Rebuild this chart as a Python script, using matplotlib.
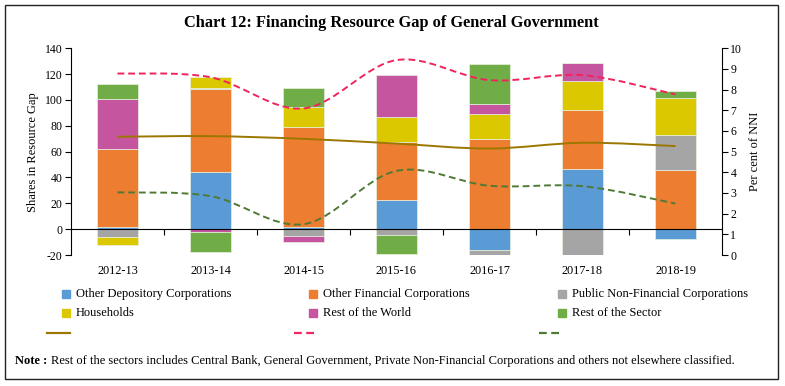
import matplotlib
matplotlib.use("Agg")
import matplotlib.pyplot as plt
import numpy as np
from matplotlib.path import Path
from matplotlib.patches import PathPatch, Rectangle
from matplotlib.lines import Line2D

plt.rcParams["font.family"] = ["Liberation Serif", "DejaVu Serif"]
plt.rcParams["axes.unicode_minus"] = False

years = ["2012-13", "2013-14", "2014-15", "2015-16", "2016-17", "2017-18", "2018-19"]

# shares in resource gap (left axis)
odc = [1.3, 44.4, 1.8, 22.5, -16.3, 46.5, -7.7]
ofc = [60.4, 64.0, 77.4, 44.6, 69.9, 45.6, 45.9]
pnfc = [-6.2, 1.0, -5.4, -4.6, -4.6, -20.9, 27.1]
households = [-5.9, 8.6, 15.5, 19.9, 19.6, 22.7, 28.9]
rest_world = [38.9, -2.0, -4.4, 32.2, 7.5, 14.0, 0.0]
rest_sector = [11.4, -16.0, 14.7, -14.8, 30.7, 0.0, 5.2]

# per cent of NNI (right axis)
line_solid = [5.72, 5.75, 5.62, 5.39, 5.15, 5.43, 5.27]
line_red = [8.78, 8.60, 7.09, 9.43, 8.46, 8.70, 7.77]
line_green = [3.03, 2.85, 1.49, 4.07, 3.35, 3.33, 2.49]

bar_series = [
    ("Other Depository Corporations", odc, "#5B9BD5"),
    ("Other Financial Corporations", ofc, "#ED7D31"),
    ("Public Non-Financial Corporations", pnfc, "#A5A5A5"),
    ("Households", households, "#DCC800"),
    ("Rest of the World", rest_world, "#C5559E"),
    ("Rest of the Sector", rest_sector, "#70AD47"),
]


def smooth_path(xs, ys):
    # Excel-style smoothed line as cubic Bezier segments
    pts = np.column_stack([xs, ys]).astype(float)
    n = len(pts)
    verts = [pts[0]]
    codes = [Path.MOVETO]
    for i in range(n - 1):
        p0 = pts[max(i - 1, 0)]
        p1 = pts[i]
        p2 = pts[i + 1]
        p3 = pts[min(i + 2, n - 1)]
        c1 = p1 + (p2 - p0) / 6.0
        c2 = p2 - (p3 - p1) / 6.0
        verts += [c1, c2, p2]
        codes += [Path.CURVE4] * 3
    return Path(verts, codes)


W, H = 785, 386
fig = plt.figure(figsize=(W / 100, H / 100), dpi=100)
ax = fig.add_axes([71 / W, 1 - 255 / H, (722 - 71) / W, (255 - 48.3) / H])
ax2 = ax.twinx()

x = np.arange(len(years))
pos_base = np.zeros(len(years))
neg_base = np.zeros(len(years))
for name, vals, color in bar_series:
    v = np.array(vals)
    base = np.where(v >= 0, pos_base, neg_base)
    ax.bar(x, v, bottom=base, width=0.44, color=color,
           edgecolor="#e8f0e0", linewidth=0.5, zorder=2)
    pos_base += np.where(v >= 0, v, 0)
    neg_base += np.where(v < 0, v, 0)

ax.set_ylim(-20, 140)
ax.set_yticks(range(-20, 141, 20))
ax.set_xlim(-0.5, 6.5)
ax.set_xticks(x, years)
ax.set_xticks(np.arange(0.5, 6, 1), minor=True)
ax.tick_params(axis="x", which="major", length=0, pad=26, labelsize=8.8)
ax.tick_params(axis="x", which="minor", length=4, direction="out", width=0.8)
ax.tick_params(axis="y", length=4, width=0.8, labelsize=8.5, pad=2)
ax.spines["bottom"].set_position(("data", 0))
ax.spines["top"].set_visible(False)
ax.spines["right"].set_visible(False)
ax.set_ylabel("Shares in Resource Gap", fontsize=9, labelpad=4)

ax2.set_ylim(0, 10)
ax2.set_yticks(range(0, 11))
ax2.tick_params(axis="y", length=4, width=0.8, labelsize=8.5, pad=2)
for s in ["top", "left", "bottom"]:
    ax2.spines[s].set_visible(False)
ax2.set_ylabel("Per cent of NNI", fontsize=9, labelpad=5)

line_styles = [
    (line_solid, "#9C7700", "-"),
    (line_red, "#F0245C", (0, (3.5, 2))),
    (line_green, "#4F7A35", (0, (3.5, 2))),
]
for vals, color, ls in line_styles:
    ax2.add_patch(PathPatch(smooth_path(x, vals), facecolor="none",
                            edgecolor=color, linewidth=1.4, linestyle=ls,
                            zorder=3))

fig.text(391 / W, 1 - 23 / H, "Chart 12: Financing Resource Gap of General Government",
         ha="center", va="center", fontsize=11.8, fontweight="bold")

# legend, laid out by rows as in the source
col_x = [65.7, 313.3, 561.7]
row_y = [294, 313.3]
for k, (name, vals, color) in enumerate(bar_series):
    cx = col_x[k % 3]
    cy = row_y[k // 3]
    fig.patches.append(Rectangle(((cx - 4) / W, 1 - (cy + 4) / H), 8 / W, 8 / H,
                                 transform=fig.transFigure, color=color))
    fig.text((cx + 10) / W, 1 - cy / H, name, ha="left", va="center", fontsize=9)

line_leg = [(47, 70), (294, 314), (539, 562)]
for (x0, x1), (vals, color, ls) in zip(line_leg, line_styles):
    fig.lines.append(Line2D([x0 / W, x1 / W], [1 - 333 / H, 1 - 333 / H],
                            transform=fig.transFigure, color=color,
                            linewidth=1.6, linestyle=ls))

fig.text(15 / W, 1 - 361 / H, "Note :", ha="left", va="center",
         fontsize=9, fontweight="bold")
fig.text(51 / W, 1 - 361 / H,
         "Rest of the sectors includes Central Bank, General Government, Private "
         "Non-Financial Corporations and others not elsewhere classified.",
         ha="left", va="center", fontsize=9)

fig.patches.append(Rectangle((5 / W, 1 - 379 / H), 773 / W, 374 / H,
                             transform=fig.transFigure, fill=False,
                             edgecolor="#222222", linewidth=1.0))

fig.savefig("out.png", dpi=100)
